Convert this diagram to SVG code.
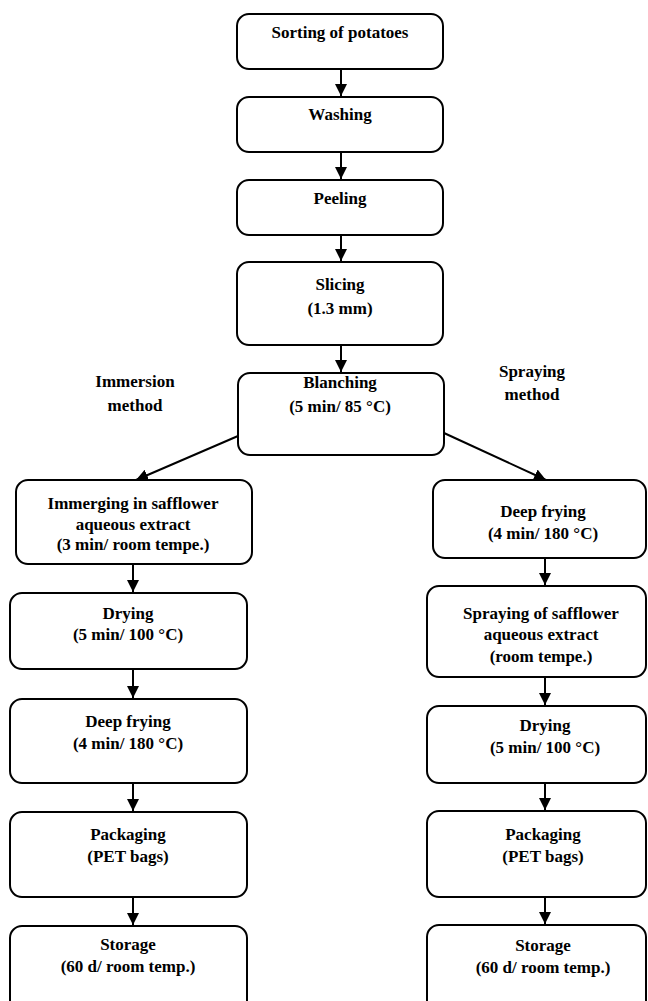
<svg xmlns="http://www.w3.org/2000/svg" width="648" height="1001" viewBox="0 0 648 1001">
<style>
.box{fill:#fff;stroke:#000;stroke-width:2}
text{font-family:"Liberation Serif","Times New Roman",serif;font-weight:bold;font-size:17px;fill:#000;text-anchor:middle}
.c line{stroke:#000;stroke-width:2}
</style>
<defs>
<marker id="ah" markerUnits="userSpaceOnUse" markerWidth="12" markerHeight="12" viewBox="0 0 12 12" refX="12" refY="6" orient="auto">
<path d="M0,0 L12,6 L0,12 Z" fill="#000"/>
</marker>
</defs>
<rect width="648" height="1001" fill="#fff"/>
<g class="c" id="connectors">
<line x1="341" y1="69" x2="341" y2="96" marker-end="url(#ah)"/>
<line x1="341" y1="152" x2="341" y2="179" marker-end="url(#ah)"/>
<line x1="341" y1="235" x2="341" y2="261" marker-end="url(#ah)"/>
<line x1="341" y1="345" x2="341" y2="372" marker-end="url(#ah)"/>
<line x1="238" y1="436" x2="136" y2="480" marker-end="url(#ah)"/>
<line x1="444" y1="433" x2="546" y2="480" marker-end="url(#ah)"/>
<line x1="133" y1="564" x2="133" y2="592" marker-end="url(#ah)"/>
<line x1="133" y1="669" x2="133" y2="698" marker-end="url(#ah)"/>
<line x1="133" y1="783" x2="133" y2="811" marker-end="url(#ah)"/>
<line x1="133" y1="897" x2="133" y2="925" marker-end="url(#ah)"/>
<line x1="545" y1="558" x2="545" y2="585" marker-end="url(#ah)"/>
<line x1="545" y1="677" x2="545" y2="705" marker-end="url(#ah)"/>
<line x1="545" y1="783" x2="545" y2="810" marker-end="url(#ah)"/>
<line x1="545" y1="897" x2="545" y2="924" marker-end="url(#ah)"/>
</g>
<g id="sorting"><rect class="box" x="237" y="14" width="206" height="55" rx="12"/><text x="340" y="38">Sorting of potatoes</text></g>
<g id="washing"><rect class="box" x="237" y="97" width="206" height="55" rx="12"/><text x="340" y="120">Washing</text></g>
<g id="peeling"><rect class="box" x="237" y="180" width="206" height="55" rx="12"/><text x="340" y="204">Peeling</text></g>
<g id="slicing"><rect class="box" x="237" y="262" width="206" height="83" rx="12"/><text x="340" y="290">Slicing</text><text x="340" y="314">(1.3 mm)</text></g>
<g id="blanching"><rect class="box" x="238" y="373" width="206" height="82" rx="12"/><text x="340" y="388">Blanching</text><text x="340" y="412">(5 min/ 85 °C)</text></g>
<g id="immersion-label"><text x="135" y="387">Immersion</text><text x="135" y="411">method</text></g>
<g id="spraying-label"><text x="532" y="377">Spraying</text><text x="532" y="400">method</text></g>
<g id="immerging"><rect class="box" x="16" y="480" width="236" height="84" rx="12"/><text x="133" y="509">Immerging in safflower</text><text x="133" y="530">aqueous extract</text><text x="133" y="550">(3 min/ room tempe.)</text></g>
<g id="drying-left"><rect class="box" x="10" y="593" width="237" height="76" rx="12"/><text x="128" y="619">Drying</text><text x="128" y="640">(5 min/ 100 °C)</text></g>
<g id="frying-left"><rect class="box" x="10" y="699" width="237" height="84" rx="12"/><text x="128" y="727">Deep frying</text><text x="128" y="749">(4 min/ 180 °C)</text></g>
<g id="packaging-left"><rect class="box" x="10" y="812" width="237" height="85" rx="12"/><text x="128" y="840">Packaging</text><text x="128" y="862">(PET bags)</text></g>
<g id="storage-left"><rect class="box" x="10" y="926" width="237" height="90" rx="12"/><text x="128" y="950">Storage</text><text x="128" y="972">(60 d/ room temp.)</text></g>
<g id="frying-right"><rect class="box" x="433" y="480" width="213" height="78" rx="12"/><text x="543" y="517">Deep frying</text><text x="543" y="539">(4 min/ 180 °C)</text></g>
<g id="spraying"><rect class="box" x="427" y="586" width="219" height="91" rx="12"/><text x="541" y="619">Spraying of safflower</text><text x="541" y="640">aqueous extract</text><text x="541" y="662">(room tempe.)</text></g>
<g id="drying-right"><rect class="box" x="427" y="706" width="219" height="77" rx="12"/><text x="545" y="731">Drying</text><text x="545" y="753">(5 min/ 100 °C)</text></g>
<g id="packaging-right"><rect class="box" x="427" y="811" width="219" height="86" rx="12"/><text x="543" y="840">Packaging</text><text x="543" y="862">(PET bags)</text></g>
<g id="storage-right"><rect class="box" x="427" y="925" width="219" height="90" rx="12"/><text x="543" y="951">Storage</text><text x="543" y="973">(60 d/ room temp.)</text></g>
</svg>
